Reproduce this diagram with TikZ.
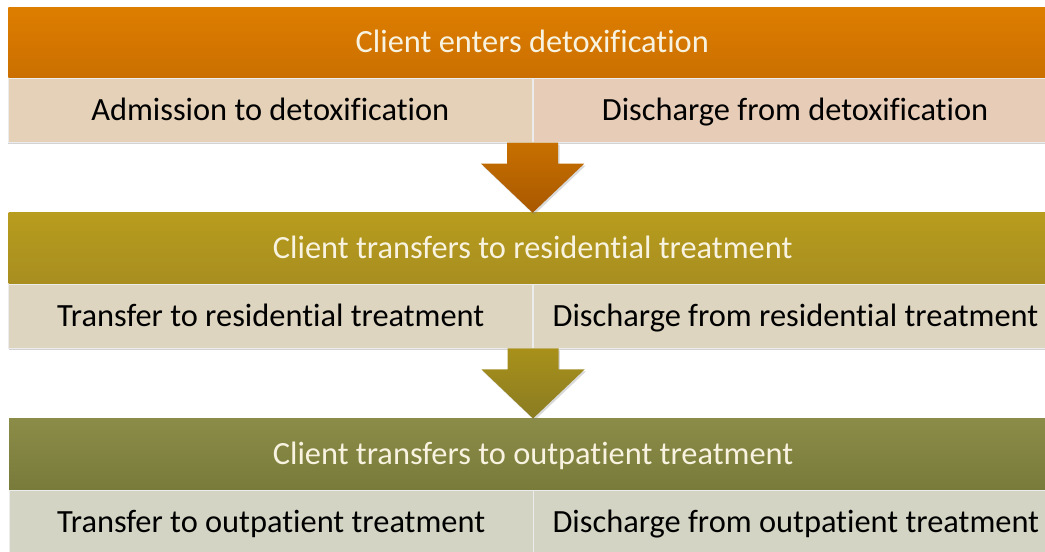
\documentclass[tikz,border=0pt]{standalone}
\usepackage{fontspec}
\setmainfont[Ligatures=NoCommon]{Carlito}
\usepackage{tikz}
\usetikzlibrary{positioning, calc, shadows}

\definecolor{detoxTop}{HTML}{DE7E00}
\definecolor{detoxBot}{HTML}{CA6F00}
\definecolor{detoxSub}{HTML}{E4D1B8}
\definecolor{detoxSubR}{HTML}{E7CDB8}
\definecolor{resTop}{HTML}{B79C1E}
\definecolor{resBot}{HTML}{A88E1F}
\definecolor{resSub}{HTML}{DDD5BF}
\definecolor{outTop}{HTML}{8B8C47}
\definecolor{outBot}{HTML}{797B3B}
\definecolor{outSub}{HTML}{D3D4C3}
\definecolor{headText}{HTML}{F8F3E0}

\begin{document}
\begin{tikzpicture}[x=0.75pt,y=-0.75pt,node distance=0pt,
    every node/.style={font=\fontsize{24.3}{29}\selectfont, inner sep=0pt, text height=15.6pt, text depth=0pt},
    band/.style={minimum width=786pt, minimum height=52.9pt, text=headText},
    cell/.style={minimum width=393pt, minimum height=48pt, text=black, draw=white!85!gray, line width=0.5pt,
        drop shadow={shadow xshift=0pt, shadow yshift=-1.5pt, opacity=0.35}},
    blockarrow/.style={drop shadow={shadow xshift=1pt, shadow yshift=-1.5pt, opacity=0.3}}]

  \clip (0,0) rectangle (1045,552);

  % detoxification
  \node[band, anchor=north west, top color=detoxTop, bottom color=detoxBot] (hd1) at (8,7) {Client enters detoxification};
  \node[cell, fill=detoxSub, below right=0pt and 0pt of hd1.south west] (adm) {Admission to detoxification};
  \node[cell, fill=detoxSubR, right=of adm] (disDetox) {Discharge from detoxification};

  % residential
  \node[band, below=52.5pt of adm.south east, top color=resTop, bottom color=resBot] (hd2) {Client transfers to residential treatment};
  \node[cell, fill=resSub, below right=0pt and 0pt of hd2.south west] (traRes) {Transfer to residential treatment};
  \node[cell, fill=resSub, right=of traRes] (disRes) {Discharge from residential treatment};

  % outpatient
  \node[band, below=52.5pt of traRes.south east, top color=outTop, bottom color=outBot] (hd3) {Client transfers to outpatient treatment};
  \node[cell, fill=outSub, below right=0pt and 0pt of hd3.south west] (traOut) {Transfer to outpatient treatment};
  \node[cell, fill=outSub, right=of traOut] (disOut) {Discharge from outpatient treatment};

  \foreach \tail/\tip/\ctop/\cbot in {adm/hd2/C77000/A95800, traRes/hd3/A8901A/8A7C22} {
    \definecolor{arTop}{HTML}{\ctop}
    \definecolor{arBot}{HTML}{\cbot}
    \path[blockarrow, top color=arTop, bottom color=arBot]
      ($(\tail.south east)+(-25.5,0)$) -- ($(\tip.north)+(-25.5,-49)$)
      -- ($(\tip.north)+(-51.5,-49)$) -- (\tip.north)
      -- ($(\tip.north)+(51.5,-49)$) -- ($(\tip.north)+(25.5,-49)$)
      -- ($(\tail.south east)+(25.5,0)$) -- cycle;
  }
\end{tikzpicture}
\end{document}
